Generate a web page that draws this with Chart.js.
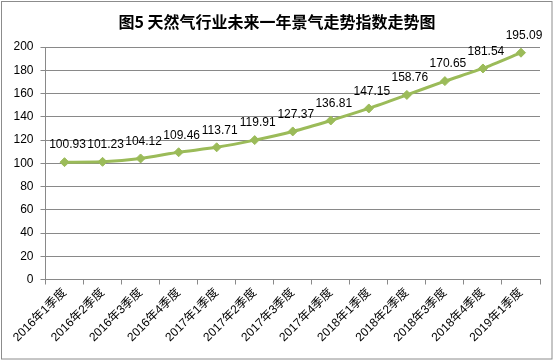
<!DOCTYPE html>
<html lang="zh-CN">
  <head>
    <meta charset="UTF-8" />
    <title>天然气行业景气走势</title>
    <script src="https://cdn.jsdelivr.net/npm/chart.js"></script>
    <style>
      body { margin: 0; background: #fff; }
      #box { width: 554px; height: 361px; }
    </style>
  </head>
  <body>
    <div id="box">
      <canvas id="grafico" width="554" height="361"></canvas>
    </div>

    <script>
      // dados do gráfico
      const titulo = "图5 天然气行业未来一年景气走势指数走势图"
      const trimestres = [
        "2016年1季度", "2016年2季度", "2016年3季度", "2016年4季度",
        "2017年1季度", "2017年2季度", "2017年3季度", "2017年4季度",
        "2018年1季度", "2018年2季度", "2018年3季度", "2018年4季度",
        "2019年1季度"
      ]
      const indice = [100.93, 101.23, 104.12, 109.46, 113.71, 119.91, 127.37, 136.81, 147.15, 158.76, 170.65, 181.54, 195.09]
      const eixoY = [0, 20, 40, 60, 80, 100, 120, 140, 160, 180, 200]

      const fonte = "'Liberation Sans', Arial, 'Noto Sans CJK SC', sans-serif"
      const verde = "#9BBB59"
      const cinza = "#898989"

      // titulo, moldura e rótulos dos pontos
      const extras = {
        id: "extras",
        afterDraw(chart) {
          const ctx = chart.ctx
          ctx.save()
          ctx.strokeStyle = "#8c8c8c"
          ctx.lineWidth = 1
          ctx.strokeRect(1.5, 1.5, 550.5, 357.5)

          ctx.fillStyle = "#000"
          ctx.font = "bold 16px 'Noto Sans CJK SC', sans-serif"
          ctx.textAlign = "center"
          ctx.textBaseline = "middle"
          ctx.fillText(titulo, 277, 22)

          ctx.font = "12px " + fonte
          const pontos = chart.getDatasetMeta(0).data
          for (let i = 0; i < pontos.length; i++) {
            ctx.fillText(indice[i].toFixed(2), pontos[i].x + 3, pontos[i].y - 17)
          }
          ctx.restore()
        }
      }

      new Chart(document.getElementById("grafico").getContext("2d"), {
        type: "line",
        data: {
          labels: trimestres,
          datasets: [
            {
              data: indice,
              borderColor: verde,
              backgroundColor: verde,
              borderWidth: 3,
              tension: 0.2,
              pointStyle: "rectRot",
              pointRadius: 4.5,
              pointBackgroundColor: verde,
              pointBorderColor: verde,
              pointBorderWidth: 1,
            },
          ],
        },
        options: {
          responsive: false,
          animation: false,
          layout: { padding: { left: 0, right: 14, top: 47, bottom: 0 } },
          plugins: {
            legend: { display: false },
            title: { display: false },
            tooltip: { enabled: false },
          },
          scales: {
            x: {
              offset: true,
              grid: { offset: true, drawOnChartArea: false, drawTicks: true, tickLength: 5, color: cinza },
              border: { color: cinza },
              ticks: {
                color: "#000",
                font: { family: fonte, size: 12 },
                maxRotation: 45,
                minRotation: 45,
                autoSkip: false,
                padding: 1,
              },
              afterFit(scale) { scale.height = 81.5 },
            },
            y: {
              min: 0,
              max: 200,
              afterBuildTicks(scale) { scale.ticks = eixoY.map(v => ({ value: v })) },
              grid: { color: cinza, tickLength: 5 },
              border: { color: cinza },
              ticks: {
                color: "#000",
                font: { family: fonte, size: 12 },
                padding: 7,
              },
              afterFit(scale) { scale.width = 45.5 },
            },
          },
        },
        plugins: [extras],
      })
    </script>
  </body>
</html>
